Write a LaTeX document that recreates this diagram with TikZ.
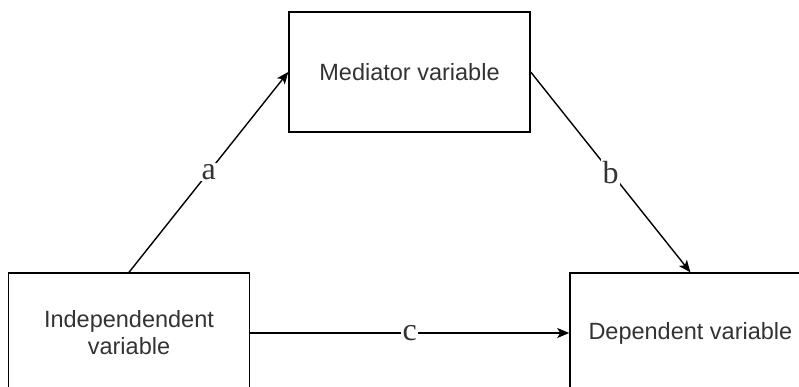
\documentclass[tikz,border=0pt]{standalone}
\usepackage{fontspec}
\setmainfont{Liberation Serif}
\setsansfont{Liberation Sans}
\usetikzlibrary{positioning,calc}
\usetikzlibrary{arrows.meta}
\colorlet{textgray}{black!80}
\tikzstyle{arrow} = [line width=1.4pt,-{Stealth[length=12pt,width=10pt,inset=3pt]}]

\begin{document}
\begin{tikzpicture}[x=1pt, y=-1pt, varbox/.style={rectangle, draw, line width=1.4pt, minimum width=241pt, minimum height=120pt, inner sep=0pt, align=center, text=textgray, font=\sffamily\fontsize{23.5}{27}\selectfont}, pathlabel/.style={fill=white, inner sep=1.5pt, text=textgray, font=\fontsize{32}{32}\selectfont}]

			\useasboundingbox (0,0) rectangle (799,387);
			\clip (0,0) rectangle (799,387);

			% VARIABLES

			\node [varbox] (independent) at (129,333) {Independendent\\variable};
			\node [varbox, right=319pt of independent] (dependent) {Dependent variable};
			\node [varbox] (mediator) at (409.5,72) {Mediator variable};

			% PATHS

			\draw [arrow] (independent.north) -- node [pathlabel] {a} (mediator.west);
			\draw [arrow] (mediator.east) -- node [pathlabel] {b} (dependent.north);
			\draw [arrow] (independent.east) -- node [pathlabel] {c} (dependent.west);

		\end{tikzpicture}
\end{document}
